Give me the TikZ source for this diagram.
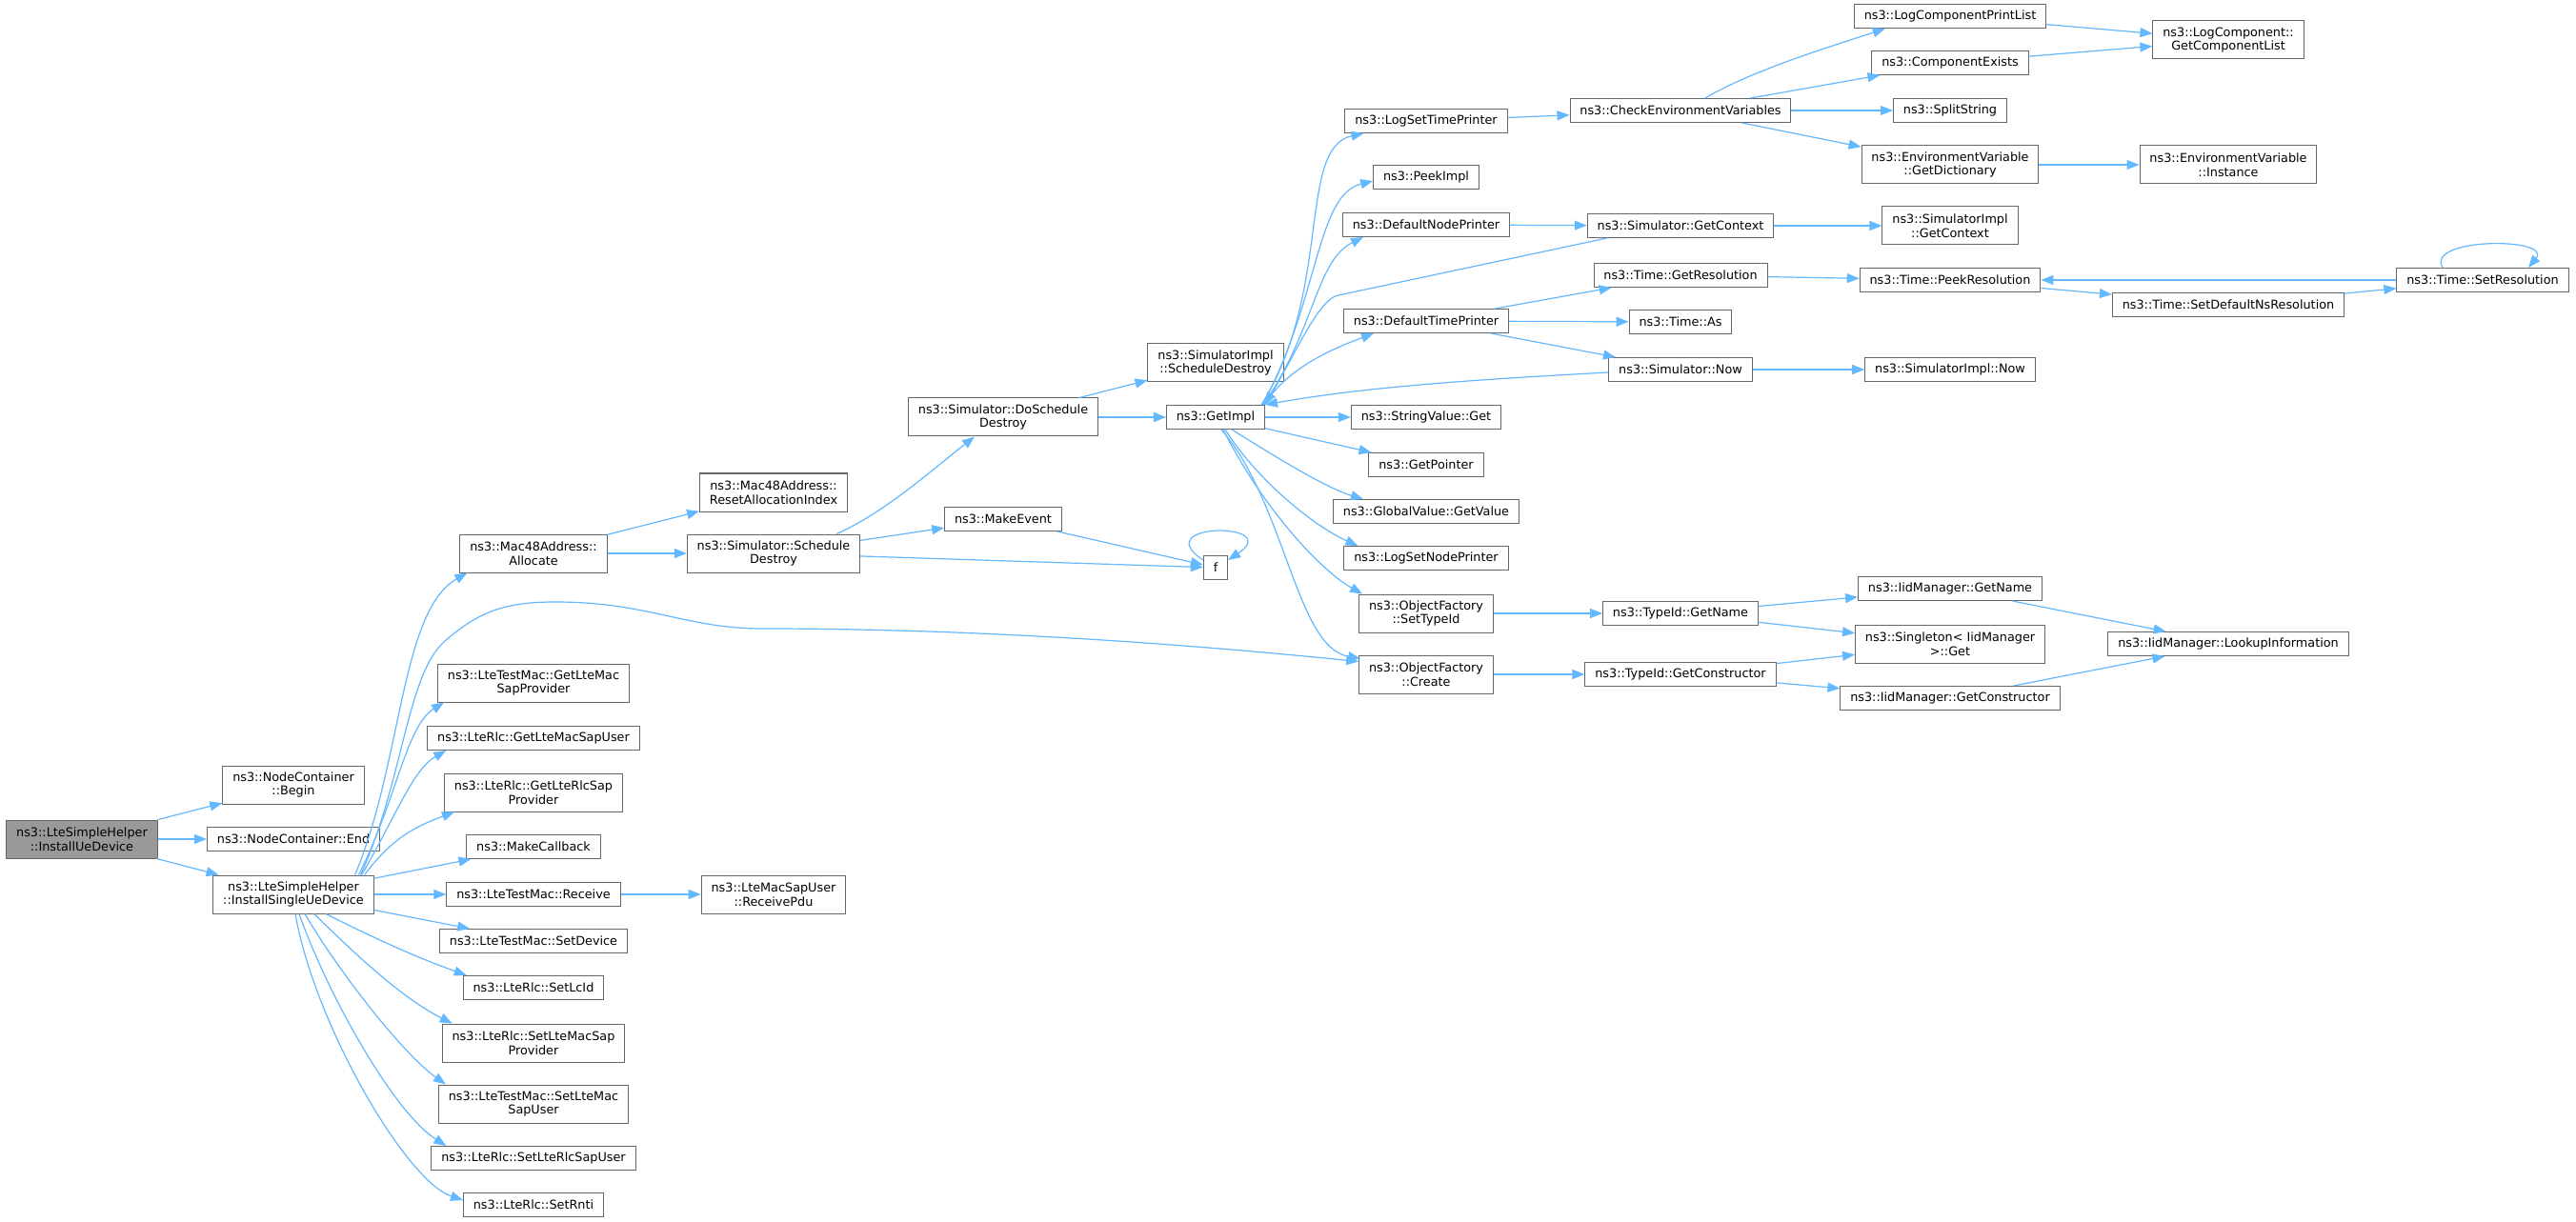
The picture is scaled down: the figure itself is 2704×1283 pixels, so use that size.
\documentclass[tikz,border=0pt]{standalone}
\usepackage{fontspec}
\setmainfont{DejaVu Sans}
\usepackage{tikz}
\usetikzlibrary{arrows.meta, calc}

\definecolor{edgeblue}{HTML}{63B8FF}
\definecolor{nodegray}{HTML}{666666}
\definecolor{rootgray}{HTML}{999999}

\begin{document}
\begin{tikzpicture}[x=0.5pt, y=-0.5pt,
    fnode/.style={draw=nodegray, line width=0.5pt, fill=white, rectangle, align=center, inner xsep=5.2pt, inner ysep=1pt, minimum height=12.5pt, font=\fontsize{6.4}{7.4}\selectfont},
    twoline/.style={minimum height=20pt},
    rootnode/.style={fill=rootgray},
    edge/.style={draw=edgeblue, line width=0.6pt, -{Triangle[length=6.5pt, width=5pt]}}]

    \fill[white] (0,0) rectangle (2704,1283);
    \useasboundingbox (0,0) rectangle (2704,1283);

    % Nodes for the caller and its direct callees
    \node (root) [fnode, twoline, rootnode] at (86,881) {ns3::LteSimpleHelper\\::InstallUeDevice};
    \node (ncbegin) [fnode, twoline] at (308,824) {ns3::NodeContainer\\::Begin};
    \node (ncend) [fnode] at (308,881) {ns3::NodeContainer::End};
    \node (isud) [fnode, twoline] at (308,939) {ns3::LteSimpleHelper\\::InstallSingleUeDevice};

    % Nodes called by InstallSingleUeDevice
    \node (alloc) [fnode, twoline] at (560,581) {ns3::Mac48Address::\\Allocate};
    \node (gmsp) [fnode, twoline] at (560,717) {ns3::LteTestMac::GetLteMac\\SapProvider};
    \node (gmsu) [fnode] at (560,775) {ns3::LteRlc::GetLteMacSapUser};
    \node (grsp) [fnode, twoline] at (560,832) {ns3::LteRlc::GetLteRlcSap\\Provider};
    \node (mkcb) [fnode] at (560,889) {ns3::MakeCallback};
    \node (recv) [fnode] at (560,939) {ns3::LteTestMac::Receive};
    \node (setdev) [fnode] at (560,988) {ns3::LteTestMac::SetDevice};
    \node (setlcid) [fnode] at (560,1037) {ns3::LteRlc::SetLcId};
    \node (smsp) [fnode, twoline] at (560,1095) {ns3::LteRlc::SetLteMacSap\\Provider};
    \node (smsu) [fnode, twoline] at (560,1159) {ns3::LteTestMac::SetLteMac\\SapUser};
    \node (srsu) [fnode] at (560,1216) {ns3::LteRlc::SetLteRlcSapUser};
    \node (setrnti) [fnode] at (560,1265) {ns3::LteRlc::SetRnti};

    % Nodes for the scheduling chain
    \node (resetidx) [fnode, twoline] at (812,517) {ns3::Mac48Address::\\ResetAllocationIndex};
    \node (schdes) [fnode, twoline] at (812,581) {ns3::Simulator::Schedule\\Destroy};
    \node (rcvpdu) [fnode, twoline] at (812,939) {ns3::LteMacSapUser\\::ReceivePdu};
    \node (doschd) [fnode, twoline] at (1053,438) {ns3::Simulator::DoSchedule\\Destroy};
    \node (mkevt) [fnode] at (1053,545) {ns3::MakeEvent};
    \node (implschd) [fnode, twoline] at (1276,381) {ns3::SimulatorImpl\\::ScheduleDestroy};
    \node (getimpl) [fnode] at (1276,438) {ns3::GetImpl};
    \node (f) [fnode] at (1276,596) {f};

    % Nodes called by GetImpl
    \node (logstp) [fnode] at (1497,127) {ns3::LogSetTimePrinter};
    \node (peekimpl) [fnode] at (1497,186) {ns3::PeekImpl};
    \node (dnp) [fnode] at (1497,236) {ns3::DefaultNodePrinter};
    \node (dtp) [fnode] at (1497,337) {ns3::DefaultTimePrinter};
    \node (strget) [fnode] at (1497,438) {ns3::StringValue::Get};
    \node (getptr) [fnode] at (1497,488) {ns3::GetPointer};
    \node (gvget) [fnode] at (1497,537) {ns3::GlobalValue::GetValue};
    \node (logsnp) [fnode] at (1497,586) {ns3::LogSetNodePrinter};
    \node (ofset) [fnode, twoline] at (1497,644) {ns3::ObjectFactory\\::SetTypeId};
    \node (ofcreate) [fnode, twoline] at (1497,708) {ns3::ObjectFactory\\::Create};

    % Nodes for the printers, time and type ids
    \node (chkenv) [fnode] at (1764,116) {ns3::CheckEnvironmentVariables};
    \node (simctx) [fnode] at (1764,237) {ns3::Simulator::GetContext};
    \node (getres) [fnode] at (1764,289) {ns3::Time::GetResolution};
    \node (timeas) [fnode] at (1764,338) {ns3::Time::As};
    \node (simnow) [fnode] at (1764,388) {ns3::Simulator::Now};
    \node (tidname) [fnode] at (1764,644) {ns3::TypeId::GetName};
    \node (tidctor) [fnode] at (1764,708) {ns3::TypeId::GetConstructor};

    \node (lcpl) [fnode] at (2047,17) {ns3::LogComponentPrintList};
    \node (cexists) [fnode] at (2047,66) {ns3::ComponentExists};
    \node (split) [fnode] at (2047,116) {ns3::SplitString};
    \node (envdict) [fnode, twoline] at (2047,173) {ns3::EnvironmentVariable\\::GetDictionary};
    \node (implctx) [fnode, twoline] at (2047,237) {ns3::SimulatorImpl\\::GetContext};
    \node (peekres) [fnode] at (2047,294) {ns3::Time::PeekResolution};
    \node (implnow) [fnode] at (2047,388) {ns3::SimulatorImpl::Now};
    \node (iidname) [fnode] at (2047,618) {ns3::IidManager::GetName};
    \node (singget) [fnode, twoline] at (2047,676) {ns3::Singleton< IidManager\\>::Get};
    \node (iidctor) [fnode] at (2047,733) {ns3::IidManager::GetConstructor};

    \node (complist) [fnode, twoline] at (2339,42) {ns3::LogComponent::\\GetComponentList};
    \node (envinst) [fnode, twoline] at (2339,173) {ns3::EnvironmentVariable\\::Instance};
    \node (setdefns) [fnode] at (2339,320) {ns3::Time::SetDefaultNsResolution};
    \node (lookup) [fnode] at (2339,676) {ns3::IidManager::LookupInformation};
    \node (setres) [fnode] at (2606,294) {ns3::Time::SetResolution};

    % Draw arrows from the caller
    \draw[edge] (root) -- (ncbegin);
    \draw[edge] (root) -- (ncend);
    \draw[edge] (root) -- (isud);

    % Draw arrows from InstallSingleUeDevice
    \draw[edge] ($(isud.north east)+(-20,0)$) .. controls +(50,-120) and +(-70,40) .. ($(alloc.south west)+(8,0)$);
    \draw[edge] ($(isud.north east)+(-14,0)$) .. controls +(45,-100) and +(-40,35) .. (467,673)
        .. controls +(35,-30) and +(-55,0) .. (583,632)
        .. controls +(97,0) and +(-80,0) .. (800,660)
        .. controls +(250,0) and +(-150,-15) .. ($(ofcreate.north west)+(0,7)$);
    \draw[edge] ($(isud.north east)+(-16,0)$) .. controls +(40,-80) and +(-40,25) .. ($(gmsp.south west)+(7,0)$);
    \draw[edge] ($(isud.north east)+(-13,0)$) .. controls +(35,-60) and +(-35,20) .. ($(gmsu.south west)+(20,0)$);
    \draw[edge] ($(isud.north east)+(-10,0)$) .. controls +(30,-40) and +(-40,15) .. ($(grsp.south west)+(11,0)$);
    \draw[edge] (isud) -- (mkcb);
    \draw[edge] (isud) -- (recv);
    \draw[edge] (isud) -- (setdev);
    \draw[edge] ($(isud.south)+(34,0)$) .. controls +(60,30) and +(-50,-18) .. ($(setlcid.north west)+(4,0)$);
    \draw[edge] ($(isud.south)+(22,0)$) .. controls +(45,45) and +(-50,-25) .. ($(smsp.north west)+(11,0)$);
    \draw[edge] ($(isud.south)+(12,0)$) .. controls +(35,60) and +(-45,-32) .. ($(smsu.north west)+(8,0)$);
    \draw[edge] ($(isud.south)+(6,0)$) .. controls +(30,85) and +(-55,-35) .. ($(srsu.north west)+(16,0)$);
    \draw[edge] ($(isud.south)+(2,0)$) .. controls +(20,115) and +(-60,-20) .. ($(setrnti.west)+(0,-5)$);

    % Draw arrows for the scheduling chain
    \draw[edge] (alloc) -- (resetidx);
    \draw[edge] (alloc) -- (schdes);
    \draw[edge] (recv) -- (rcvpdu);
    \draw[edge] ($(schdes.north east)+(-25,0)$) .. controls +(50,-22) and +(-45,35) .. ($(doschd.south)+(-30,0)$);
    \draw[edge] (schdes) -- (mkevt);
    \draw[edge] (schdes) -- (f);
    \draw[edge] (mkevt) -- (f);
    \draw[edge] ($(f.north west)+(0,5)$) .. controls +(-60,-40) and +(60,-40) .. ($(f.north east)+(0,5)$);
    \draw[edge] (doschd) -- (implschd);
    \draw[edge] (doschd) -- (getimpl);

    % Draw arrows from GetImpl
    \draw[edge] ($(getimpl.north east)+(-4,0)$) .. controls +(75,-120) and +(-70,15) .. ($(logstp.south west)+(20,0)$);
    \draw[edge] ($(getimpl.north east)+(-3,0)$) .. controls +(60,-110) and +(-60,15) .. ($(peekimpl.west)+(0,4)$);
    \draw[edge] ($(getimpl.north east)+(-2,0)$) .. controls +(55,-80) and +(-50,25) .. ($(dnp.south west)+(22,0)$);
    \draw[edge] ($(getimpl.north east)+(-1,0)$) .. controls +(25,-40) and +(-40,15) .. ($(dtp.south west)+(32,0)$);
    \draw[edge] (getimpl) -- (strget);
    \draw[edge] (getimpl) -- (getptr);
    \draw[edge] ($(getimpl.south)+(17,0)$) .. controls +(45,28) and +(-40,-12) .. ($(gvget.north west)+(32,0)$);
    \draw[edge] ($(getimpl.south)+(10,0)$) .. controls +(35,55) and +(-45,-20) .. ($(logsnp.north west)+(15,0)$);
    \draw[edge] ($(getimpl.south)+(8,0)$) .. controls +(40,80) and +(-45,-25) .. ($(ofset.north west)+(4,0)$);
    \draw[edge] ($(getimpl.south)+(6,0)$) .. controls +(68,79) and +(-68,-12) .. ($(ofcreate.north west)+(2,4)$);

    % Draw arrows back into GetImpl
    \draw[edge] ($(simctx.south west)+(21,0)$) -- ++(-282,60) .. controls +(-20,4) and +(35,-60) .. (getimpl.north east);
    \draw[edge] ($(simnow.west)+(0,3)$) .. controls +(-150,8) and +(100,-18) .. (getimpl.north east);

    % Draw arrows for the printers and time
    \draw[edge] (logstp) -- (chkenv);
    \draw[edge] (dnp) -- (simctx);
    \draw[edge] (dtp) -- (getres);
    \draw[edge] (dtp) -- (timeas);
    \draw[edge] (dtp) -- (simnow);
    \draw[edge] ($(chkenv.north)+(26,0)$) .. controls +(50,-30) and +(-45,15) .. ($(lcpl.south west)+(33,0)$);
    \draw[edge] (chkenv) -- (cexists);
    \draw[edge] (chkenv) -- (split);
    \draw[edge] (chkenv) -- (envdict);
    \draw[edge] (simctx) -- (implctx);
    \draw[edge] (getres) -- (peekres);
    \draw[edge] (simnow) -- (implnow);
    \draw[edge] (lcpl) -- (complist);
    \draw[edge] (cexists) -- (complist);
    \draw[edge] (envdict) -- (envinst);
    \draw[edge] (peekres) -- (setdefns);
    \draw[edge] (setdefns) -- (setres);
    \draw[edge] (setres) -- (peekres);
    \draw[edge] ($(setres.north)+(-42,0)$) .. controls +(-19,-32) and +(26,-32) .. ($(setres.north)+(48,0)$);

    % Draw arrows for the type ids
    \draw[edge] (ofset) -- (tidname);
    \draw[edge] (ofcreate) -- (tidctor);
    \draw[edge] (tidname) -- (iidname);
    \draw[edge] (tidname) -- (singget);
    \draw[edge] (tidctor) -- (singget);
    \draw[edge] (tidctor) -- (iidctor);
    \draw[edge] (iidname) -- (lookup);
    \draw[edge] (iidctor) -- (lookup);

\end{tikzpicture}
\end{document}
